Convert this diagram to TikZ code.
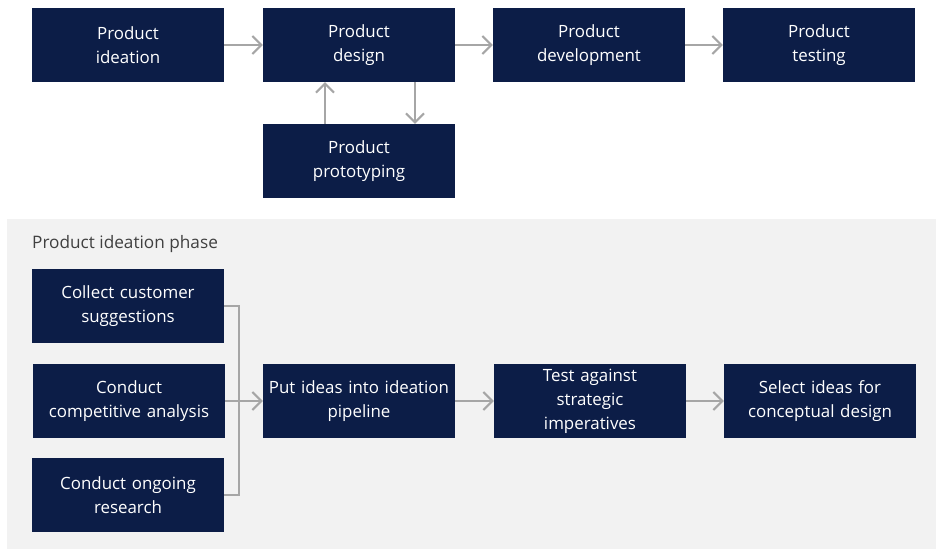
\documentclass[tikz,border=0pt]{standalone}
\usepackage{fontspec}
\setmainfont{Open Sans}
\usepackage{tikz}
\usetikzlibrary{arrows.meta, positioning}
\usepackage{xcolor}
\definecolor{navy}{HTML}{0C1D47}
\definecolor{panelgray}{HTML}{F2F2F2}
\definecolor{arrowgray}{HTML}{A6A6A6}
\definecolor{titlegray}{HTML}{404040}

\begin{document}
\begin{tikzpicture}[
        x=1pt, y=-1pt,
        stage/.style={rectangle, fill=navy, text=white, minimum width=192pt, minimum height=74pt,
          text width=188pt, align=center, font=\fontsize{16.9}{24}\selectfont, inner sep=0pt},
        link/.style={draw=arrowgray, line width=2pt},
        flow/.style={link, -{Straight Barb[length=9pt, width=18pt, line width=2pt]}}
      ]
        \useasboundingbox (0,0) rectangle (941,550);
        % Ideation phase panel
        \fill[panelgray] (7,219) rectangle (936,549);
        \node[anchor=west, text=titlegray, font=\fontsize{17.2}{20}\selectfont, inner sep=0pt] (phase) at (32,244) {Product ideation phase};

        % Top row
        \node[stage] (ideation) at (128,45) {Product\\ideation};
        \node[stage] (design) at (359,45) {Product\\design};
        \node[stage] (development) at (589,45) {Product\\development};
        \node[stage] (testing) at (819,45) {Product\\testing};
        \node[stage] (prototyping) at (359,161) {Product\\prototyping};

        % Inputs of the ideation phase
        \node[stage] (suggestions) at (128,306) {Collect customer\\suggestions};
        \node[stage] (analysis) at (129,401) {Conduct\\competitive analysis};
        \node[stage] (research) at (128,495) {Conduct ongoing\\research};
        \node[stage] (pipeline) at (359,401) {Put ideas into ideation\\pipeline};
        \node[stage] (imperatives) at (590,401) {Test against\\strategic\\imperatives};
        \node[stage] (select) at (820,401) {Select ideas for\\conceptual design};
        \coordinate (merge) at (239,401);

        % Connections: top row
        \draw[flow] (ideation) -- (design);
        \draw[flow] (design) -- (development);
        \draw[flow] (development) -- (testing);
        \draw[flow] ([xshift=-34pt]prototyping.north) -- ([xshift=-34pt]design.south);
        \draw[flow] ([xshift=56pt]design.south) -- ([xshift=56pt]prototyping.north);

        % Connections: ideation phase
        \draw[link] (suggestions.east) -| (merge);
        \draw[link] (research.east) -| (merge);
        \draw[link] (analysis.east) -- (merge);
        \draw[flow] (merge) -- (pipeline);
        \draw[flow] (pipeline) -- (imperatives);
        \draw[flow] (imperatives) -- (select);
      \end{tikzpicture}
\end{document}
